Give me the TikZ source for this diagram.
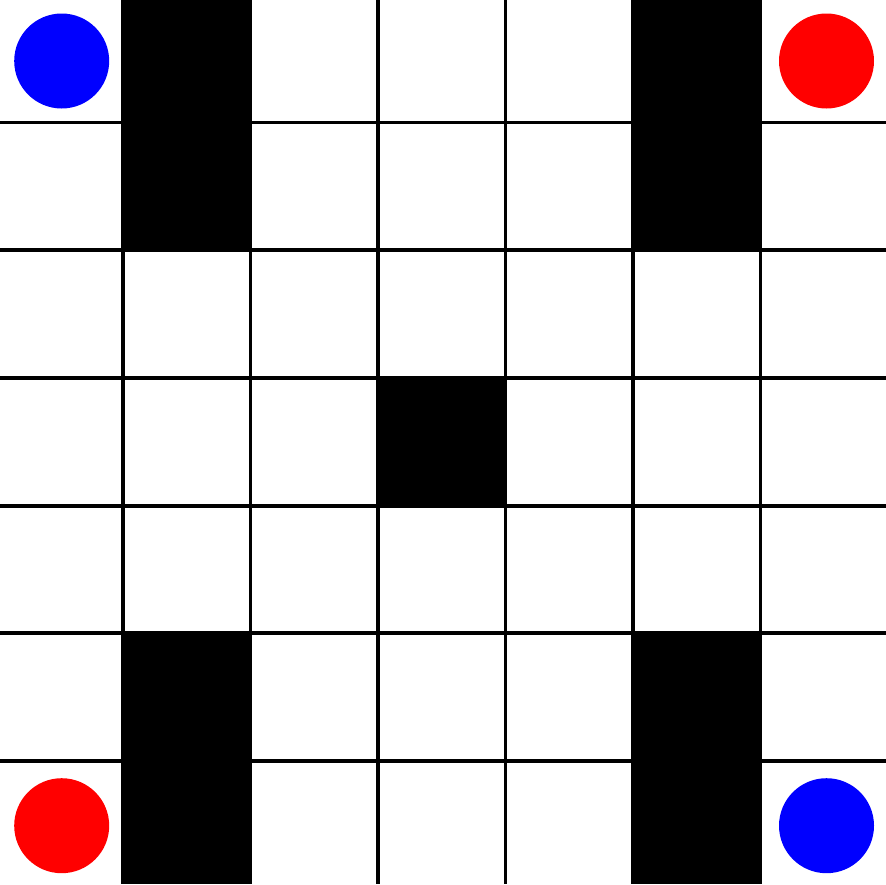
\documentclass[tikz,border=0pt]{standalone}
\usepackage{xcolor}
\usepackage{tikz}
\usetikzlibrary{positioning}

\begin{document}
\begin{tikzpicture}[
  x=1pt, y=-1pt,
  wall/.style={fill=black, draw=none},
  gridline/.style={line width=3.5pt, black},
  token/.style={circle, minimum size=95pt, inner sep=0pt, draw=none},
]
  \useasboundingbox[fill=white] (0,0) rectangle (886,884);

  % Grid lines
  \foreach \x in {123,250.5,378,505.5,633,760.5}
    \draw[gridline] (\x,0) -- (\x,884);
  \foreach \y in {122.5,250,378,506,633,761}
    \draw[gridline] (0,\y) -- (886,\y);

  % Walls
  \fill[wall] (123,0) rectangle (250.5,250);
  \fill[wall] (633,0) rectangle (760.5,250);
  \fill[wall] (378,378) rectangle (505.5,506);
  \fill[wall] (123,633) rectangle (250.5,884);
  \fill[wall] (633,633) rectangle (760.5,884);

  % Tokens
  \node[token, fill=blue] (blueA) at (61.7,61) {};
  \node[token, fill=red] (redA) at (826.5,61) {};
  \node[token, fill=red] (redB) at (61.7,825.7) {};
  \node[token, fill=blue] (blueB) at (826.5,825.7) {};
\end{tikzpicture}
\end{document}
